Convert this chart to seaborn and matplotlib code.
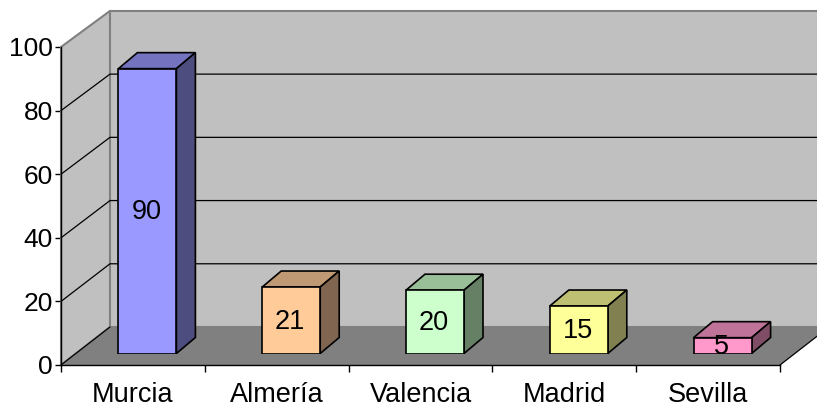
import matplotlib
matplotlib.use("Agg")
import matplotlib.pyplot as plt
import seaborn as sns
import pandas as pd
from matplotlib.patches import Polygon

cities = ["Murcia", "Almería", "Valencia", "Madrid", "Sevilla"]
values = [90, 21, 20, 15, 5]
front_colors = ["#9999FF", "#FFCC99", "#CCFFCC", "#FFFF99", "#FF99CC"]
top_colors = ["#7373BF", "#BF9973", "#99BF99", "#BFBF73", "#BF7399"]
side_colors = ["#4D4D80", "#806650", "#668066", "#808050", "#804D66"]
y_ticks = [0, 20, 40, 60, 80, 100]

W, H = 817, 408

sns.set_theme(style="white")
plt.rcParams["font.family"] = ["Liberation Sans", "DejaVu Sans"]

def px_axes(fig, left, right, top, bottom):
    return fig.add_axes([left / W, 1 - bottom / H, (right - left) / W, (bottom - top) / H])

fig = plt.figure(figsize=(W / 100, H / 100), dpi=100)

# front frame of the fake 3d box
ax = px_axes(fig, 61, 780, 47, 365)
ax.set_xlim(-0.5, 4.5)
ax.set_ylim(0, 100)
ax.patch.set_alpha(0)

unit_x = 719 / 5
unit_y = 318 / 100
dx = 49 / unit_x
dy = 38 / unit_y
back_top = 100 * 0.994 + dy  # back wall is a touch shorter than the front edge

ax.add_patch(Polygon([(-0.5, 0), (-0.5, 100), (-0.5 + dx, back_top), (-0.5 + dx, dy)],
                     fc="#C0C0C0", ec="#808080", lw=1.5, clip_on=False, zorder=1))
ax.add_patch(Polygon([(-0.5 + dx, dy), (-0.5 + dx, back_top), (4.5 + dx, back_top), (4.5 + dx, dy)],
                     fc="#C0C0C0", ec="#808080", lw=1.5, clip_on=False, zorder=1))
ax.add_patch(Polygon([(-0.5, 0), (4.5, 0), (4.5 + dx, dy), (-0.5 + dx, dy)],
                     fc="#808080", ec="none", clip_on=False, zorder=2))

for t in y_ticks[1:-1]:
    back = t * 0.994 + dy
    ax.plot([-0.5, -0.5 + dx, 4.5 + dx], [t, back, back], color="black", lw=0.9,
            clip_on=False, zorder=2)
ax.plot([-0.5, -0.5 + dx], [0, dy], color="black", lw=0.9, clip_on=False, zorder=3)
ax.plot([4.5, 4.5 + dx], [0, dy], color="black", lw=0.9, clip_on=False, zorder=3)

for side in ["top", "right"]:
    ax.spines[side].set_visible(False)
for side in ["left", "bottom"]:
    ax.spines[side].set_color("black")
    ax.spines[side].set_linewidth(1.0)
    ax.spines[side].set_zorder(4)

ax.set_yticks(y_ticks)
ax.tick_params(axis="y", which="major", left=True, length=4, width=1, color="black",
               labelsize=19, pad=2, labelcolor="black")
ax.set_xticks(range(len(cities)))
ax.set_xticklabels(cities)
ax.set_xticks([i - 0.5 for i in range(len(cities) + 1)], minor=True)
ax.tick_params(axis="x", which="major", bottom=False, length=0, labelsize=19.5, pad=12,
               labelcolor="black")
ax.tick_params(axis="x", which="minor", bottom=True, length=5, width=1, color="black")

# bars sit a little inside the floor, so they get their own shifted axes
df = pd.DataFrame({"city": cities, "value": values})
ax_bars = px_axes(fig, 75.5, 794.5, 37, 353.5)
sns.barplot(data=df, x="city", y="value", hue="city", palette=front_colors, width=58 / unit_x,
            edgecolor="black", linewidth=1.2, saturation=1, legend=False, ax=ax_bars, zorder=6)
ax_bars.set_xlim(-0.5, 4.5)
ax_bars.set_ylim(0, 100)
ax_bars.axis("off")

bar_dx = 19 / unit_x
bar_dy = 16 / 3.165
for p, top_c, side_c in zip(list(ax_bars.patches), top_colors, side_colors):
    x0, w, h = p.get_x(), p.get_width(), p.get_height()
    x1 = x0 + w
    ax_bars.add_patch(Polygon([(x0, h), (x1, h), (x1 + bar_dx, h + bar_dy), (x0 + bar_dx, h + bar_dy)],
                              fc=top_c, ec="black", lw=1.2, clip_on=False, zorder=5))
    ax_bars.add_patch(Polygon([(x1, 0), (x1 + bar_dx, bar_dy), (x1 + bar_dx, h + bar_dy), (x1, h)],
                              fc=side_c, ec="black", lw=1.2, clip_on=False, zorder=5))

for c in ax_bars.containers:
    for lab in ax_bars.bar_label(c, label_type="center", fontsize=19.5, color="black", zorder=7):
        lab.xyann = (-0.7, -1)

fig.savefig("out.png", dpi=100, facecolor="white")
